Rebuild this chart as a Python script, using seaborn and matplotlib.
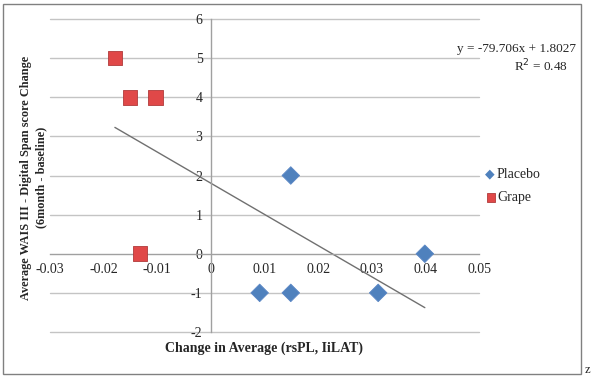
import matplotlib
matplotlib.use("Agg")
import matplotlib.pyplot as plt
import matplotlib.patches as mpatches
import seaborn as sns
import pandas as pd
import numpy as np

placebo_x = [0.0149, 0.0091, 0.0149, 0.0312, 0.0399]
placebo_y = [2, -1, -1, -1, 0]
grape_x = [-0.0179, -0.0151, -0.0103, -0.0132]
grape_y = [5, 4, 4, 0]
slope = -79.706
intercept = 1.8027
r2 = 0.48
x_ticks = [-0.03, -0.02, -0.01, 0, 0.01, 0.02, 0.03, 0.04, 0.05]
x_tick_labels = ["-0.03", "-0.02", "-0.01", "0", "0.01", "0.02", "0.03", "0.04", "0.05"]
y_ticks = [-2, -1, 0, 1, 2, 3, 4, 5, 6]

df = pd.DataFrame({
    "x": placebo_x + grape_x,
    "y": placebo_y + grape_y,
    "group": ["Placebo"] * len(placebo_x) + ["Grape"] * len(grape_x),
})

sns.set_style("white")
plt.rcParams["font.family"] = ["Liberation Serif", "DejaVu Serif"]

fig = plt.figure(figsize=(5.94, 3.81), dpi=100)
ax = fig.add_axes([50/594, 1-332/381, (479-50)/594, (332-19)/381])

for yv in y_ticks:
    if yv != 0:
        ax.axhline(yv, color="#C4C4C4", lw=1.0, zorder=0, clip_on=False)

sns.scatterplot(data=df, x="x", y="y", hue="group", style="group",
                markers={"Placebo": "D", "Grape": "s"},
                palette={"Placebo": "#4F81BD", "Grape": "#E04848"},
                size="group", sizes={"Placebo": 80, "Grape": 110},
                linewidth=0.6, ax=ax, legend=False, zorder=3)
coll = ax.collections[0]
ec = ["#5A86C5" if g == "Placebo" else "#B03A3A" for g in df["group"]]
coll.set_edgecolors(ec)

xs = np.array([min(grape_x), max(placebo_x)])
ax.plot(xs, slope * xs + intercept, color="#707070", lw=1.0, zorder=2)

ax.set_xlim(-0.03, 0.05)
ax.set_ylim(-2, 6)
ax.set_xticks(x_ticks)
ax.set_xticklabels(x_tick_labels)
ax.set_yticks(y_ticks)
ax.set_yticklabels([str(v) for v in y_ticks])

for s in ["top", "right"]:
    ax.spines[s].set_visible(False)
ax.spines["left"].set_position(("data", 0))
ax.spines["bottom"].set_position(("data", 0))
for s in ["left", "bottom"]:
    ax.spines[s].set_color("#A0A0A0")
    ax.spines[s].set_linewidth(1.0)
ax.tick_params(axis="x", direction="inout", length=6, color="#A0A0A0", labelsize=10, pad=4)
ax.tick_params(axis="y", direction="inout", length=0, color="#A0A0A0", labelsize=10, pad=6)
ax.set_xlabel("")
ax.set_ylabel("")

fig.text(264/594, 1-348/381, "Change in Average (rsPL, IiLAT)", ha="center", va="center",
         fontsize=10, fontweight="bold")
fig.text(26/594, 1-178/381, "Average WAIS III - Digital Span score Change",
         ha="center", va="center", rotation=90, fontsize=8.8, fontweight="bold")
fig.text(41/594, 1-177/381, "(6month - baseline)",
         ha="center", va="center", rotation=90, fontsize=8.8, fontweight="bold")

fig.text(576/594, 1-49/381, "y = -79.706x + 1.8027", ha="right", va="center", fontsize=9.5)
fig.text(541/594, 1-66/381, "R$^2$ = 0.48", ha="center", va="center", fontsize=9.5)

fig.text(485/594, 1-174/381, "\u25C6", color="#4F81BD", ha="left", va="center", fontsize=9,
         family=["DejaVu Sans"])
fig.text(497/594, 1-174/381, "Placebo", ha="left", va="center", fontsize=10)
fig.patches.append(mpatches.Rectangle((487/594, 1-202/381), 8/594, 9/381, transform=fig.transFigure,
                                      facecolor="#E04848", edgecolor="#B03A3A", lw=0.6))
fig.text(497/594, 1-197/381, "Grape", ha="left", va="center", fontsize=10)

fig.patches.append(mpatches.Rectangle((3/594, 1-374/381), 578/594, 370/381, transform=fig.transFigure,
                                      facecolor="none", edgecolor="#808080", lw=1.0))
fig.text(585/594, 1-370/381, "z", ha="left", va="center", fontsize=9)

fig.savefig("out.png", dpi=100)
